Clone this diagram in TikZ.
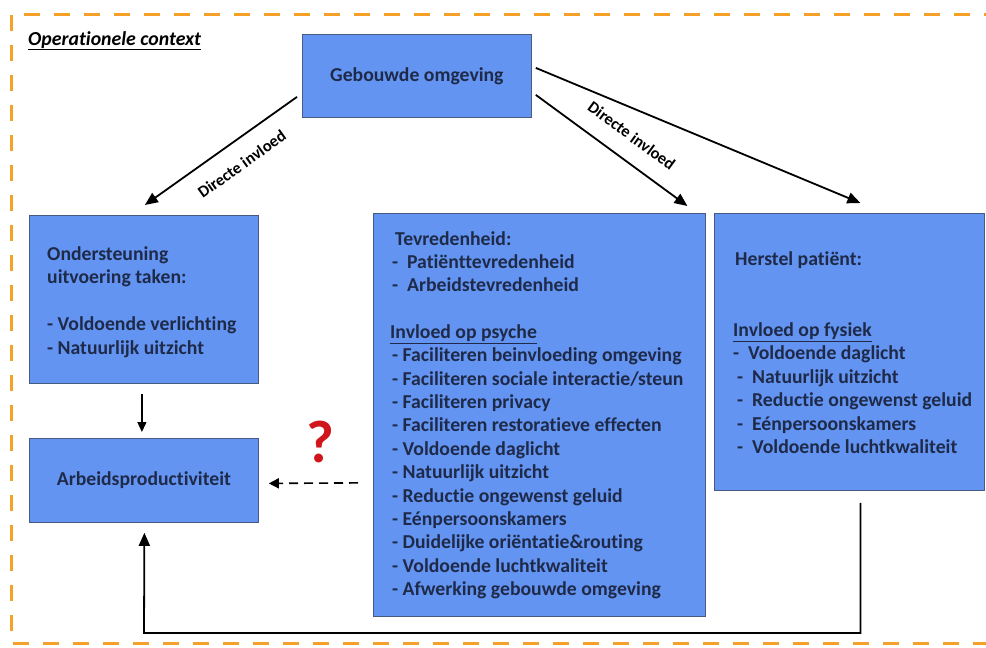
\documentclass[tikz,border=0pt]{standalone}
\usepackage{fontspec}
\setmainfont{Carlito}[Ligatures={NoCommon}]
\usetikzlibrary{arrows.meta,calc}
\definecolor{boxblue}{RGB}{99,148,242}
\definecolor{boxedge}{RGB}{70,90,130}
\definecolor{navy}{RGB}{30,42,72}
\definecolor{frameorange}{RGB}{245,160,40}
\definecolor{qred}{RGB}{208,22,26}
\begin{document}
\begin{tikzpicture}[x=1pt,y=-1pt,
  box/.style={draw=boxedge,line width=0.8pt,fill=boxblue,inner sep=0pt,anchor=north west},
  boxtext/.style={text=navy,font=\bfseries\fontsize{19.7}{23.4}\selectfont,align=left,inner sep=0pt,anchor=north west},
  title/.style={text=navy,font=\bfseries\fontsize{19.7}{23}\selectfont,inner sep=0pt},
  link/.style={line width=1.8pt,-{Triangle[length=13pt,width=11pt]}},
  lbl/.style={font=\bfseries\fontsize{16.5}{18}\selectfont,text=black,inner sep=0pt}]
\useasboundingbox (0,0) rectangle (986,648);
\fill[white] (0,0) rectangle (986,648);

% dashed context frame (right side runs off the page)
\draw[frameorange,line width=3pt,dash pattern=on 16pt off 14pt]
  (1000,14) -- (11,14) -- (11,643) -- (1000,643);
\node[anchor=base west,inner sep=0pt,font=\bfseries\itshape\fontsize{19.8}{22}\selectfont]
  (ctx) at (28,45) {\underline{Operationele context}};

% boxes
\node[box,minimum width=229pt,minimum height=83pt] (geb) at (302,34) {};
\node[box,minimum width=229pt,minimum height=168pt] (ond) at (29,215) {};
\node[box,minimum width=229pt,minimum height=84pt] (arb) at (29,438) {};
\node[box,minimum width=332pt,minimum height=403pt] (tev) at (373,213) {};
\node[box,minimum width=270pt,minimum height=277pt] (her) at (714,213) {};

% box texts
\node[title] (gebt) at (geb.center) {Gebouwde omgeving};
\node[title] (arbt) at (arb.center) {Arbeidsproductiviteit};
\node[boxtext] (ondt) at (47,246)
  {Ondersteuning\\uitvoering taken:\\[24pt]- Voldoende verlichting\\- Natuurlijk uitzicht};
\node[boxtext] (tevt) at (390,231)
  {\hspace*{5pt}Tevredenheid:\\\hspace*{2pt}-\ \ Patiënttevredenheid\\\hspace*{2pt}-\ \ Arbeidstevredenheid\\[23pt]%
   \underline{Invloed op psyche}\\
   \hspace*{2pt}- Faciliteren beinvloeding omgeving\\
   \hspace*{2pt}- Faciliteren sociale interactie/steun\\
   \hspace*{2pt}- Faciliteren privacy\\
   \hspace*{2pt}- Faciliteren restoratieve effecten\\
   \hspace*{2pt}- Voldoende daglicht\\
   \hspace*{2pt}- Natuurlijk uitzicht\\
   \hspace*{2pt}- Reductie ongewenst geluid\\
   \hspace*{2pt}- Eénpersoonskamers\\
   \hspace*{2pt}- Duidelijke oriëntatie\&routing\\
   \hspace*{2pt}- Voldoende luchtkwaliteit\\
   \hspace*{2pt}- Afwerking gebouwde omgeving};
\node[boxtext] (hert) at (733,251)
  {\hspace*{2pt}Herstel patiënt:\\[48pt]%
   \underline{Invloed op fysiek}\\
   -\ \ Voldoende daglicht\\
   \hspace*{4pt}-\ \ Natuurlijk uitzicht\\
   \hspace*{4pt}-\ \ Reductie ongewenst geluid\\
   \hspace*{4pt}-\ \ Eénpersoonskamers\\
   \hspace*{4pt}-\ \ Voldoende luchtkwaliteit};

% influence arrows from the built environment
\draw[link] ($(geb.west)+(-5,21)$) -- ($(ond.north)+(1,-10)$)
  node[lbl,pos=0.45,sloped,below=16pt] {Directe invloed};
\draw[link] ($(geb.east)+(4,19)$) -- ($(tev.north)+(148,-7)$)
  node[lbl,pos=0.54,sloped,above=17pt] {Directe invloed};
\draw[link] ($(geb.east)+(4,-8)$) -- ($(her.north)+(11,-10)$);

% task support to productivity
\draw[line width=1.4pt,-{Triangle[length=10pt,width=9pt]}]
  ($(ond.south)+(-2,10)$) -- ($(arb.north)+(-2,-6)$);

% uncertain effect of satisfaction on productivity
\draw[line width=1.6pt,dash pattern=on 9pt off 6pt,-{Triangle[length=10pt,width=10pt]}]
  ($(tev.west)+(-15,68)$) -- ($(arb.east)+(10,3)$);
\node[text=qred,font=\bfseries\fontsize{60}{62}\selectfont,inner sep=0pt] (q) at (320,442) {?};

% recovery back to productivity
\draw[line width=1.8pt,-{Triangle[length=13pt,width=11pt]}]
  ($(her.south)+(11,12)$) |- (144,633) -- ($(arb.south)+(0.5,10)$);
\end{tikzpicture}
\end{document}
